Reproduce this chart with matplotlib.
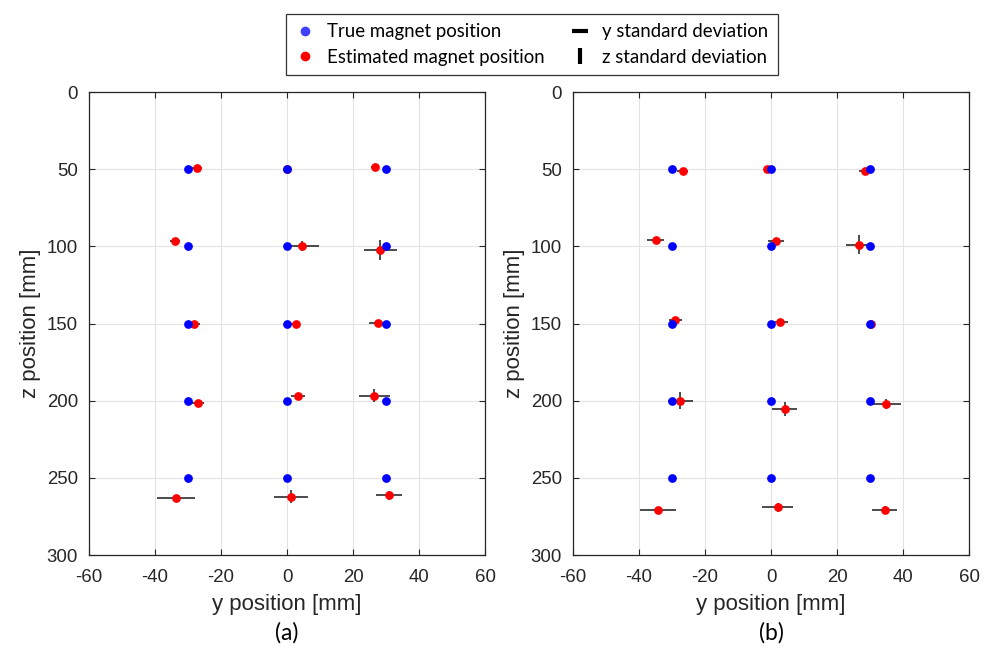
import matplotlib
matplotlib.use("Agg")
import matplotlib.pyplot as plt
from matplotlib.lines import Line2D

# true magnet grid (same for both panels)
true_y = [-30, 0, 30] * 5
true_z = [50] * 3 + [100] * 3 + [150] * 3 + [200] * 3 + [250] * 3

# panel (a) estimates
est_a_y = [-27.3, 0.0, 26.8, -34.0, 4.6, 28.2, -28.2, 2.6, 27.6, -27.1, 3.3, 26.4, -33.7, 1.2, 30.9]
est_a_z = [49.5, 50.0, 48.8, 96.4, 99.6, 102.4, 150.6, 150.6, 149.9, 201.8, 197.2, 196.8, 263.1, 262.3, 261.4]
std_a_y = [1.5, 0.5, 1.2, 1.6, 5.2, 5.0, 1.8, 1.4, 2.7, 1.9, 2.2, 4.7, 5.7, 5.1, 3.8]
std_a_z = [0.5, 0.5, 0.8, 1.7, 3.2, 6.5, 0.8, 0.8, 0.8, 1.0, 1.2, 4.2, 1.5, 4.3, 3.2]

# panel (b) estimates
est_b_y = [-26.8, -1.2, 28.4, -35.0, 1.5, 26.6, -29.0, 2.7, 30.4, -27.5, 4.2, 34.7, -34.2, 2.0, 34.4]
est_b_z = [51.0, 50.0, 51.0, 95.9, 96.4, 98.9, 147.8, 149.0, 150.0, 200.0, 205.4, 202.0, 271.1, 269.2, 270.9]
std_b_y = [1.6, 1.0, 1.6, 2.6, 2.3, 3.9, 1.9, 2.3, 0.8, 3.8, 3.8, 4.7, 5.4, 4.6, 3.9]
std_b_z = [0.8, 0.5, 0.8, 1.7, 1.5, 6.0, 1.0, 1.0, 0.5, 5.4, 4.3, 3.2, 2.3, 2.8, 2.7]

xticks = [-60, -40, -20, 0, 20, 40, 60]
yticks = [0, 50, 100, 150, 200, 250, 300]

blue = "#0000ff"
red = "#ff0000"

plt.rcParams["font.family"] = ["Liberation Sans", "DejaVu Sans"]

fig = plt.figure(figsize=(9.9, 6.48), dpi=100)

panels = [
    (0.0899, est_a_y, est_a_z, std_a_y, std_a_z, "(a)"),
    (0.5788, est_b_y, est_b_z, std_b_y, std_b_z, "(b)"),
]

for left, ey, ez, sy, sz, tag in panels:
    ax = fig.add_axes([left, 0.1435, 0.4, 0.7145])
    ax.errorbar(ey, ez, xerr=sy, yerr=sz, fmt="none", ecolor="#1a1a1a",
                elinewidth=1.1, capsize=0, zorder=3)
    ax.plot(ey, ez, "o", color=red, ms=6.3, mec="none", zorder=4)
    ax.plot(true_y, true_z, "o", color=blue, ms=6.3, mec="none", zorder=5)

    ax.set_xlim(-60, 60)
    ax.set_ylim(300, 0)
    ax.set_xticks(xticks)
    ax.set_yticks(yticks)
    ax.set_xticklabels([str(t) for t in xticks])
    ax.grid(True, color="#e3e3e3", lw=0.8)
    ax.set_axisbelow(True)
    ax.tick_params(direction="in", length=4, width=0.8, colors="#262626",
                   labelsize=13.4, top=True, right=True, pad=10)
    ax.tick_params(axis="y", pad=8)
    for s in ax.spines.values():
        s.set_color("#262626")
        s.set_linewidth(0.9)
    ax.set_xlabel("y position [mm]", fontsize=16, color="#262626", labelpad=6)
    ax.set_ylabel("z position [mm]", fontsize=16, color="#262626", labelpad=4)
    fig.text(left + 0.2, 1 - 633 / 648, tag, ha="center", va="center",
             fontsize=16.5, family="Lato")

handles = [
    Line2D([], [], ls="none", marker="o", color="#4040ff", ms=7, mec="none"),
    Line2D([], [], ls="none", marker="o", color=red, ms=7, mec="none"),
    Line2D([], [], ls="none", marker="_", color="k", ms=11, mew=3),
    Line2D([], [], ls="none", marker="|", color="k", ms=11, mew=3),
]
labels = ["True magnet position", "Estimated magnet position",
          "y standard deviation", "z standard deviation"]
leg = fig.legend(handles, labels, loc="center", bbox_to_anchor=(532 / 990, 1 - 44.5 / 648),
                 ncol=2, fancybox=False, edgecolor="#333333", framealpha=1,
                 prop={"family": "Lato", "size": 13.4}, handlelength=1.0,
                 handletextpad=0.7, columnspacing=1.4, borderpad=0.5, labelspacing=0.45)
leg.get_frame().set_linewidth(0.9)

fig.savefig("out.png", dpi=100)
